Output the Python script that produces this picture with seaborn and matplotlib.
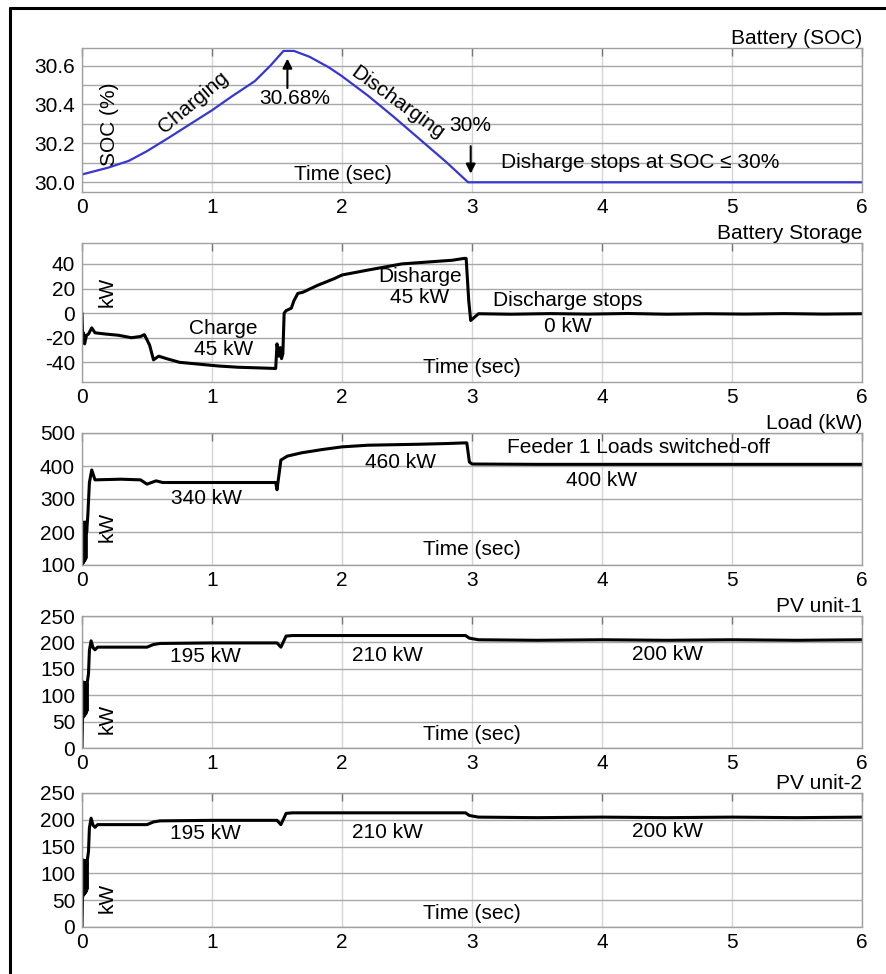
import numpy as np
import pandas as pd
import matplotlib.pyplot as plt
import seaborn as sns
from matplotlib.lines import Line2D
from matplotlib.ticker import MultipleLocator

# ---- data ----
soc_time = [0, 0.2, 0.36, 0.5, 0.67, 1.0, 1.15, 1.33, 1.45, 1.55, 1.63, 1.75, 1.9, 2.0, 2.2, 2.4, 2.6, 2.8, 2.97, 3.5, 4, 5, 6]
soc_pct = [30.04, 30.075, 30.11, 30.16, 30.23, 30.37, 30.44, 30.52, 30.6, 30.675, 30.675, 30.645, 30.59, 30.545,
           30.445, 30.335, 30.22, 30.105, 30.0, 30.0, 30.0, 30.0, 30.0]

bat_time = [0, 0.005, 0.012, 0.02, 0.035, 0.05, 0.075, 0.1, 0.18, 0.28, 0.38, 0.45, 0.48, 0.52, 0.55, 0.59,
            0.65, 0.75, 0.9, 1.05, 1.2, 1.35, 1.49, 1.5, 1.515, 1.525, 1.535, 1.545, 1.555, 1.57, 1.61, 1.63,
            1.66, 1.7, 1.81, 1.94, 2.0, 2.2, 2.46, 2.72, 2.85, 2.94, 2.955, 2.975, 2.99, 3.05, 3.3, 3.6,
            3.9, 4.2, 4.5, 4.8, 5.1, 5.4, 5.7, 6]
bat_kw = [0, -20, -16, -25, -18, -17, -12, -16, -17, -18, -20, -19, -17.5, -26, -38, -35, -37, -40, -41.5,
          -43, -44, -44.5, -45, -25, -35, -28, -37, -33, 0, 2, 4, 10, 16, 17, 22.5, 28, 31, 35, 40, 42,
          43, 44.5, 44.5, 10, -6, -0.5, -0.9, -0.4, -0.8, -0.3, -0.9, -0.5, -0.8, -0.4, -0.8, -0.5]

load_time = [0, 0.003, 0.006, 0.009, 0.012, 0.015, 0.018, 0.021, 0.024, 0.027, 0.03, 0.033, 0.036,
             0.045, 0.057, 0.075, 0.1, 0.3, 0.45, 0.5, 0.57, 0.62, 1.0, 1.49, 1.5, 1.53, 1.58, 1.69, 1.85,
             2.0, 2.2, 2.6, 2.8, 2.94, 2.96, 2.98, 3.0, 3.5, 4, 5, 6]
load_kw = [100, 230, 105, 228, 108, 230, 112, 226, 115, 230, 120, 228, 200, 252, 350, 388, 358, 360, 358,
           345, 355, 350, 350, 350, 328, 418, 430, 440, 450, 458, 463, 466, 468, 470, 470, 412, 406, 405,
           405, 405, 405]

pv_time = [0, 0.004, 0.008, 0.011, 0.014, 0.017, 0.02, 0.023, 0.026, 0.029, 0.032, 0.035, 0.038, 0.041,
           0.05, 0.057, 0.07, 0.085, 0.1, 0.12, 0.3, 0.5, 0.55, 0.6, 1.0, 1.5, 1.53, 1.57, 1.62, 2.0, 2.5,
           2.95, 2.98, 3.05, 3.5, 4, 4.5, 5, 5.5, 6]
pv1_kw = [0, 55, 60, 125, 60, 124, 62, 122, 64, 124, 66, 122, 70, 125, 141, 185, 203, 190, 186, 191, 191,
          191, 196, 198, 199, 199, 191, 212, 213, 213, 213, 213, 208, 205, 204, 205, 204, 205, 204, 205]
pv2_kw = [0, 55, 60, 125, 60, 124, 62, 122, 64, 124, 66, 122, 70, 125, 141, 185, 203, 190, 186, 191, 191,
          191, 196, 198, 199, 199, 191, 212, 213, 213, 213, 213, 208, 205, 204, 205, 204, 205, 204, 205]

x_ticks = [0, 1, 2, 3, 4, 5, 6]

sns.set_style("white")
plt.rcParams['font.family'] = ['Liberation Sans', 'DejaVu Sans']
plt.rcParams['axes.unicode_minus'] = False
plt.rcParams['text.color'] = 'black'
plt.rcParams['xtick.color'] = 'black'
plt.rcParams['ytick.color'] = 'black'
plt.rcParams['axes.labelcolor'] = 'black'
FS = 15

fig = plt.figure(figsize=(8.86, 9.74), dpi=100)
W, H = 886, 974
panel_px = [(48, 192), (243, 382), (433, 565), (616, 748), (793, 927)]
axes = []
for top, bot in panel_px:
    axes.append(fig.add_axes([82 / W, 1 - bot / H, (862 - 82) / W, (bot - top) / H]))


def style(ax, ylim, yticks, title):
    ax.set_xlim(0, 6)
    ax.set_ylim(*ylim)
    ax.set_xticks(x_ticks)
    ax.set_yticks(yticks)
    ax.set_xlabel('')
    ax.set_ylabel('')
    ax.tick_params(axis='x', direction='in', length=6, width=1, color='#777777', top=True,
                   labelsize=FS, labelcolor='black', pad=4)
    ax.tick_params(axis='y', length=0, labelsize=FS, labelcolor='black', pad=5)
    ax.grid(axis='y', which='both', color='#a8a8a8', lw=1)
    ax.grid(axis='x', color='#d6d6d6', lw=1)
    ax.set_axisbelow(True)
    for s in ax.spines.values():
        s.set_color('#a0a0a0')
        s.set_linewidth(1)
    ax.set_title(title, loc='right', fontsize=FS, pad=3, color='black')


# Battery SOC
ax = axes[0]
sns.lineplot(x=soc_time, y=soc_pct, ax=ax, color='#3636d0', linewidth=1.6, estimator=None, sort=False)
style(ax, (29.95, 30.69), [30.0, 30.2, 30.4, 30.6], 'Battery (SOC)')
ax.set_yticklabels(['30.0', '30.2', '30.4', '30.6'])
ax.yaxis.set_minor_locator(MultipleLocator(0.1))
ax.tick_params(axis='y', which='minor', length=0)
ax.text(0.21, 30.3, 'SOC (%)', rotation=90, ha='center', va='center', fontsize=FS)
ax.text(0.86, 30.41, 'Charging', rotation=40, ha='center', va='center', fontsize=FS)
ax.text(2.43, 30.41, 'Discharging', rotation=-36, ha='center', va='center', fontsize=FS)
ax.text(1.64, 30.43, '30.68%', ha='center', va='center', fontsize=FS)
ax.annotate('', xy=(1.58, 30.65), xytext=(1.58, 30.47),
            arrowprops=dict(arrowstyle='-|>', color='black', lw=1.5, mutation_scale=14))
ax.text(2.99, 30.29, '30%', ha='center', va='center', fontsize=FS)
ax.annotate('', xy=(2.99, 30.03), xytext=(2.99, 30.2),
            arrowprops=dict(arrowstyle='-|>', color='black', lw=1.5, mutation_scale=14))
ax.text(3.22, 30.1, 'Disharge stops at SOC \u2264 30%', ha='left', va='center', fontsize=FS)
ax.text(2.01, 30.04, 'Time (sec)', ha='center', va='center', fontsize=FS)

# Battery storage
ax = axes[1]
sns.lineplot(x=bat_time, y=bat_kw, ax=ax, color='black', linewidth=2.2, estimator=None, sort=False)
style(ax, (-56, 57), [-40, -20, 0, 20, 40], 'Battery Storage')
ax.text(0.19, 17, 'kW', rotation=90, ha='center', va='center', fontsize=FS)
ax.text(1.09, -21, 'Charge\n45 kW', ha='center', va='center', fontsize=FS, linespacing=1.15)
ax.text(2.6, 21, 'Disharge\n45 kW', ha='center', va='center', fontsize=FS, linespacing=1.15)
ax.text(3.16, 10.5, 'Discharge stops', ha='left', va='center', fontsize=FS)
ax.text(3.74, -11, '0 kW', ha='center', va='center', fontsize=FS)
ax.text(3.0, -44, 'Time (sec)', ha='center', va='center', fontsize=FS)

# Load
ax = axes[2]
sns.lineplot(x=load_time, y=load_kw, ax=ax, color='black', linewidth=2.2, estimator=None, sort=False)
style(ax, (100, 500), [100, 200, 300, 400, 500], 'Load (kW)')
ax.text(0.19, 215, 'kW', rotation=90, ha='center', va='center', fontsize=FS)
ax.text(0.96, 302, '340 kW', ha='center', va='center', fontsize=FS)
ax.text(2.45, 412, '460 kW', ha='center', va='center', fontsize=FS)
ax.text(4.28, 455, 'Feeder 1 Loads switched-off', ha='center', va='center', fontsize=FS)
ax.text(4.0, 357, '400 kW', ha='center', va='center', fontsize=FS)
ax.text(3.0, 146, 'Time (sec)', ha='center', va='center', fontsize=FS)

# PV units
for ax, vals, name in [(axes[3], pv1_kw, 'PV unit-1'), (axes[4], pv2_kw, 'PV unit-2')]:
    sns.lineplot(x=pv_time, y=vals, ax=ax, color='black', linewidth=2.2, estimator=None, sort=False)
    style(ax, (0, 250), [0, 50, 100, 150, 200, 250], name)
    ax.text(0.19, 55, 'kW', rotation=90, ha='center', va='center', fontsize=FS)
    ax.text(0.95, 174, '195 kW', ha='center', va='center', fontsize=FS)
    ax.text(2.35, 176, '210 kW', ha='center', va='center', fontsize=FS)
    ax.text(4.5, 178, '200 kW', ha='center', va='center', fontsize=FS)
    ax.text(3.0, 26, 'Time (sec)', ha='center', va='center', fontsize=FS)

# outer frame (left and top edges)
fig.add_artist(Line2D([10 / W, 10 / W], [0, 1 - 8 / H], transform=fig.transFigure, color='black', lw=2.2))
fig.add_artist(Line2D([10 / W, 1], [1 - 8 / H, 1 - 8 / H], transform=fig.transFigure, color='black', lw=2.2))

fig.savefig('out.png', dpi=100)
